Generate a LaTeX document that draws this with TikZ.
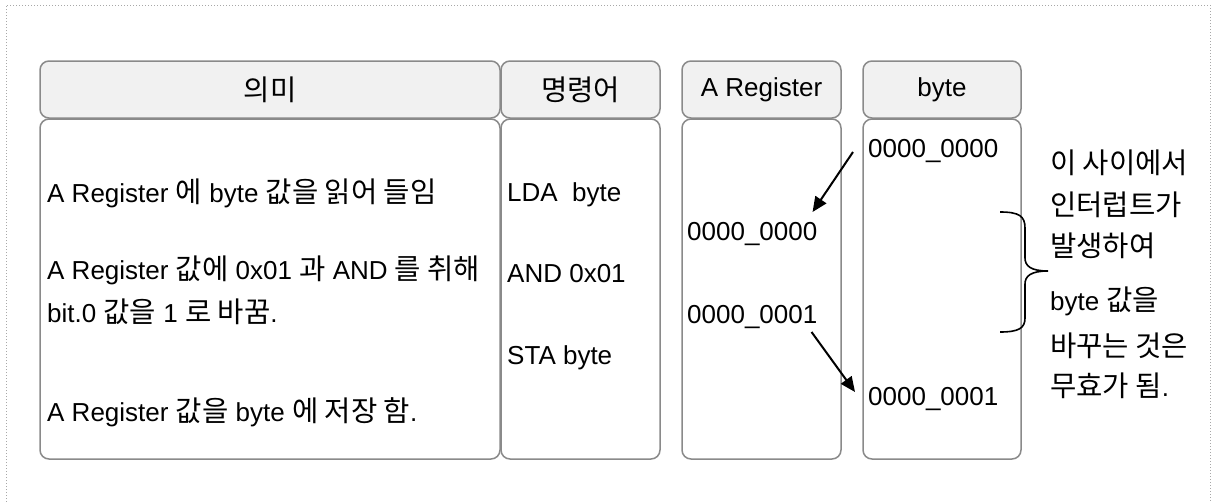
\documentclass[tikz,border=0pt]{standalone}
\usepackage{fontspec}
\setmainfont{Liberation Sans}
\newfontfamily\krfont{Noto Sans CJK KR}[Scale=1.1]
\newcommand\kr[1]{{\krfont #1}}
\usetikzlibrary{arrows.meta}
\definecolor{boxgray}{HTML}{8A8A8A}
\definecolor{hdrfill}{HTML}{F1F1F1}
\definecolor{framegray}{HTML}{A8A8A8}
\begin{document}
\begin{tikzpicture}[x=1pt,y=-1pt,
  every node/.style={font=\fontsize{26}{31}\selectfont},
  hdr/.style={draw=boxgray, fill=hdrfill, rounded corners=9, line width=1.5pt,
    minimum height=57pt, inner sep=0pt},
  col/.style={draw=boxgray, fill=white, rounded corners=9, line width=1.5pt,
    minimum height=340pt, inner sep=0pt},
  txt/.style={anchor=base west, inner sep=0pt},
  flow/.style={line width=2pt, -{Triangle[length=15pt,width=13pt]}},
  brace/.style={line width=1.6pt}
]
\useasboundingbox (0,0) rectangle (1213,501);

% dotted frame (bottom edge lies below the page)
\draw[framegray, line width=1pt, dotted] (6,520) -- (6,5) -- (1210,5) -- (1210,520);

% column headers
\node[hdr, minimum width=460pt] (h1) at (270,89.5) {\kr{의미}};
\node[hdr, minimum width=159pt] (h2) at (580.5,89.5) {\kr{명령어}};
\node[hdr, minimum width=159pt] (h3) at (761.5,89.5) {A Register};
\node[hdr, minimum width=158pt] (h4) at (942,89.5) {byte};

% column bodies
\node[col, minimum width=460pt] (c1) at (270,289) {};
\node[col, minimum width=159pt] (c2) at (580.5,289) {};
\node[col, minimum width=159pt] (c3) at (761.5,289) {};
\node[col, minimum width=158pt] (c4) at (942,289) {};

% meaning
\node[txt] (m1) at (47,202) {A Register \kr{에} byte \kr{값을 읽어 들임}};
\node[txt] (m2) at (47,279) {A Register \kr{값에} 0x01 \kr{과} AND \kr{를 취해}};
\node[txt] (m3) at (47,322) {bit.0 \kr{값을} 1 \kr{로 바꿈}.};
\node[txt] (m4) at (47,421) {A Register \kr{값을} byte \kr{에 저장 함}.};

% instructions
\node[txt] (i1) at (507,201) {LDA\ \ byte};
\node[txt] (i2) at (507,282) {AND 0x01};
\node[txt] (i3) at (507,364) {STA byte};

% register values
\node[txt] (r0) at (687,240) {0000\_0000};
\node[txt] (r1) at (687,323) {0000\_0001};

% byte values
\node[txt] (v0) at (868,157) {0000\_0000};
\node[txt] (v1) at (868,405) {0000\_0001};

% data movement
\draw[flow] ([xshift=-15pt,yshift=5pt]v0.base west) -- ([xshift=-5pt,yshift=28pt]r0.base east);
\draw[flow] ([xshift=-6pt,yshift=-9pt]r1.base east) -- ([xshift=-13pt,yshift=13pt]v1.base west);

% curly brace
\draw[brace] (1000,212) .. controls (1019,212) and (1025,216) .. (1025,228)
  -- (1025,258) .. controls (1025,266) and (1031,271) .. (1048,271)
  .. controls (1031,271) and (1025,276) .. (1025,284)
  -- (1025,318) .. controls (1025,328) and (1019,332) .. (1000,332);

% note
\node[txt] (n1) at (1050,173) {\kr{이 사이에서}};
\node[txt] (n2) at (1050,215) {\kr{인터럽트가}};
\node[txt] (n3) at (1050,256) {\kr{발생하여}};
\node[txt] (n4) at (1050,310) {byte \kr{값을}};
\node[txt] (n5) at (1050,356) {\kr{바꾸는 것은}};
\node[txt] (n6) at (1050,396) {\kr{무효가 됨}.};
\end{tikzpicture}
\end{document}
